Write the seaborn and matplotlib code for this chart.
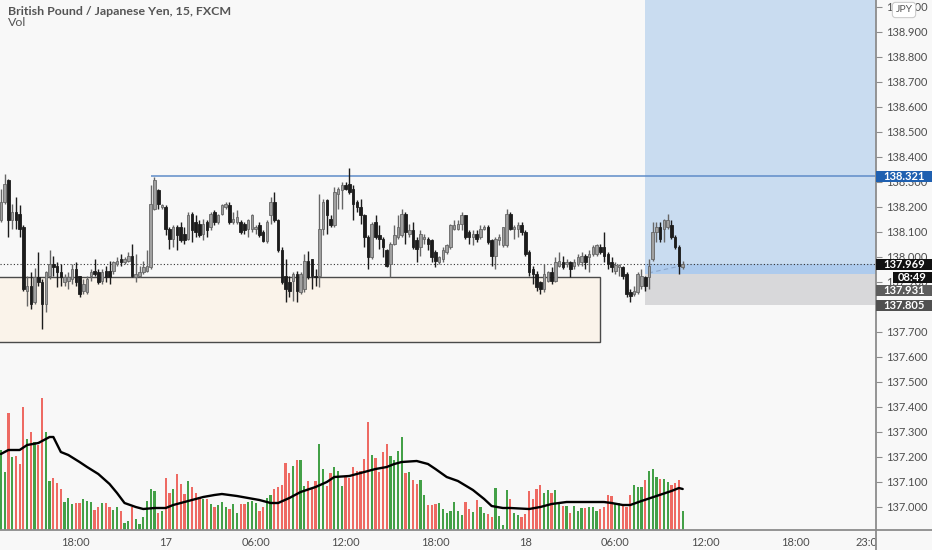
import numpy as np
import matplotlib
matplotlib.use('Agg')
import matplotlib.pyplot as plt
from matplotlib.patches import Rectangle
from matplotlib.lines import Line2D
import seaborn as sns

# --- data (15 min bars, first bar = 16th 13:00) ---
title = "British Pound / Japanese Yen, 15, FXCM"

opens = [
    138.145, 138.219, 138.306, 138.145, 138.178, 138.172, 138.118, 137.864, 137.884, 137.817,
    137.918, 137.897, 137.810, 137.924, 137.971, 137.964, 137.940, 137.897, 137.904, 137.911,
    137.951, 137.924, 137.864, 137.857, 137.924, 137.944, 137.940, 137.904, 137.944, 137.944,
    137.944, 137.971, 137.991, 137.978, 137.984, 138.004, 137.918, 137.924, 137.938, 137.944,
    137.958, 138.192, 138.266, 138.199, 138.199, 138.112, 138.071, 138.118, 138.118, 138.091,
    138.071, 138.172, 138.138, 138.132, 138.091, 138.138, 138.118, 138.178, 138.138, 138.172,
    138.199, 138.205, 138.138, 138.138, 138.138, 138.132, 138.112, 138.112, 138.112, 138.125,
    138.098, 138.061, 138.165, 138.219, 138.145, 138.025, 137.924, 137.897, 137.904, 137.931,
    137.857, 137.871, 137.984, 137.991, 137.924, 137.924, 138.112, 138.225, 138.152, 138.125,
    138.252, 138.266, 138.286, 138.292, 138.272, 138.219, 138.199, 138.165, 138.078, 137.998,
    138.138, 138.085, 138.071, 138.025, 137.971, 138.051, 138.078, 138.085, 138.172, 138.091,
    138.105, 138.065, 138.038, 138.071, 138.071, 138.065, 138.018, 137.978, 137.991, 138.018,
    138.038, 138.112, 138.112, 138.132, 138.165, 138.098, 138.078, 138.091, 138.078, 138.112,
    138.118, 138.065, 138.004, 138.065, 138.045, 138.045, 138.172, 138.112, 138.112, 138.125,
    138.098, 138.018, 137.951, 137.931, 137.897, 137.871, 137.904, 137.938, 137.904, 137.964,
    137.978, 137.971, 137.978, 137.964, 137.971, 137.978, 138.004, 137.998, 138.011, 138.011,
    138.038, 138.038, 138.011, 137.978, 137.944, 137.958, 137.958, 137.931, 137.857, 137.850,
    137.857, 137.884, 137.918, 137.918, 137.991, 138.098, 138.118, 138.112, 138.118, 138.125,
    138.078, 138.038, 137.960,
]
highs = [
    138.272, 138.329, 138.312, 138.212, 138.239, 138.208, 138.125, 137.924, 137.938, 137.954,
    138.018, 137.911, 137.944, 138.025, 138.004, 137.978, 137.971, 137.931, 137.938, 137.971,
    137.978, 137.924, 137.911, 137.924, 137.951, 137.991, 137.951, 137.951, 137.964, 137.984,
    137.984, 137.998, 138.011, 137.998, 138.018, 138.051, 138.011, 137.964, 137.984, 138.025,
    138.286, 138.319, 138.272, 138.212, 138.205, 138.118, 138.125, 138.125, 138.138, 138.118,
    138.178, 138.178, 138.165, 138.145, 138.152, 138.145, 138.178, 138.185, 138.172, 138.212,
    138.219, 138.219, 138.178, 138.185, 138.145, 138.138, 138.152, 138.172, 138.125, 138.138,
    138.105, 138.145, 138.239, 138.259, 138.152, 138.038, 137.991, 137.924, 137.938, 137.944,
    137.938, 138.011, 138.021, 137.991, 137.951, 138.252, 138.232, 138.232, 138.165, 138.279,
    138.279, 138.299, 138.299, 138.353, 138.286, 138.225, 138.232, 138.172, 138.085, 138.138,
    138.165, 138.125, 138.078, 138.031, 138.058, 138.125, 138.165, 138.192, 138.178, 138.132,
    138.138, 138.078, 138.105, 138.091, 138.078, 138.071, 138.025, 138.004, 138.038, 138.051,
    138.132, 138.145, 138.145, 138.178, 138.168, 138.105, 138.105, 138.105, 138.125, 138.128,
    138.125, 138.071, 138.078, 138.091, 138.118, 138.192, 138.178, 138.125, 138.138, 138.138,
    138.105, 138.025, 137.964, 137.944, 137.904, 137.971, 137.944, 137.958, 137.998, 138.018,
    138.004, 137.991, 137.984, 137.991, 138.011, 138.018, 138.011, 138.025, 138.045, 138.051,
    138.051, 138.098, 138.018, 137.998, 137.978, 137.971, 137.964, 137.938, 137.871, 137.884,
    137.938, 137.951, 137.924, 137.991, 138.138, 138.138, 138.138, 138.152, 138.172, 138.145,
    138.085, 138.045, 137.984,
]
lows = [
    138.138, 138.212, 138.078, 138.112, 138.112, 138.078, 137.864, 137.804, 137.790, 137.810,
    137.884, 137.710, 137.777, 137.911, 137.924, 137.877, 137.884, 137.884, 137.871, 137.890,
    137.884, 137.837, 137.850, 137.850, 137.904, 137.924, 137.890, 137.890, 137.897, 137.890,
    137.931, 137.964, 137.964, 137.971, 137.978, 137.918, 137.897, 137.918, 137.931, 137.938,
    137.951, 138.185, 138.192, 138.192, 138.085, 138.031, 138.038, 138.025, 138.058, 138.051,
    138.065, 138.058, 138.078, 138.078, 138.065, 138.078, 138.105, 138.125, 138.132, 138.165,
    138.192, 138.132, 138.132, 138.132, 138.091, 138.091, 138.078, 138.098, 138.091, 138.078,
    138.058, 138.055, 138.132, 138.138, 138.018, 137.891, 137.817, 137.837, 137.824, 137.817,
    137.850, 137.857, 137.911, 137.871, 137.884, 137.877, 138.085, 138.091, 138.118, 138.118,
    138.192, 138.192, 138.266, 138.252, 138.145, 138.178, 138.132, 138.038, 137.951, 137.991,
    138.071, 138.031, 137.998, 137.960, 137.918, 138.045, 138.071, 138.078, 138.051, 138.078,
    138.031, 137.978, 138.004, 138.051, 138.025, 137.978, 137.958, 137.971, 137.978, 138.011,
    138.031, 138.105, 138.105, 138.105, 138.071, 138.051, 138.045, 138.058, 138.071, 138.105,
    138.051, 137.964, 137.951, 138.045, 138.038, 138.038, 138.105, 138.071, 138.078, 138.085,
    138.004, 137.924, 137.891, 137.864, 137.850, 137.857, 137.897, 137.891, 137.897, 137.958,
    137.951, 137.958, 137.918, 137.951, 137.964, 137.964, 137.951, 137.938, 138.004, 138.004,
    138.011, 137.978, 137.951, 137.938, 137.931, 137.924, 137.911, 137.837, 137.817, 137.844,
    137.850, 137.871, 137.864, 137.871, 137.984, 138.058, 138.058, 138.058, 138.112, 138.071,
    138.031, 137.931, 137.951,
]
closes = [
    138.219, 138.292, 138.145, 138.178, 138.145, 138.112, 137.871, 137.884, 137.810, 137.918,
    137.897, 137.810, 137.938, 137.971, 137.958, 137.938, 137.918, 137.918, 137.918, 137.951,
    137.897, 137.850, 137.891, 137.911, 137.940, 137.931, 137.897, 137.938, 137.918, 137.918,
    137.978, 137.984, 137.978, 137.991, 138.004, 137.924, 137.931, 137.940, 137.958, 137.964,
    138.212, 138.306, 138.212, 138.205, 138.112, 138.071, 138.118, 138.085, 138.065, 138.065,
    138.165, 138.105, 138.098, 138.085, 138.132, 138.105, 138.172, 138.138, 138.165, 138.205,
    138.212, 138.138, 138.152, 138.158, 138.098, 138.105, 138.145, 138.165, 138.118, 138.085,
    138.061, 138.138, 138.219, 138.145, 138.025, 137.897, 137.871, 137.864, 137.931, 137.864,
    137.931, 137.984, 137.918, 137.924, 137.920, 138.112, 138.219, 138.165, 138.125, 138.259,
    138.272, 138.286, 138.272, 138.259, 138.212, 138.199, 138.165, 138.078, 137.998, 138.132,
    138.078, 138.071, 138.038, 137.964, 138.051, 138.085, 138.118, 138.172, 138.098, 138.105,
    138.038, 138.031, 138.091, 138.078, 138.051, 137.998, 137.984, 137.998, 138.025, 138.045,
    138.125, 138.125, 138.132, 138.165, 138.078, 138.078, 138.091, 138.071, 138.112, 138.118,
    138.058, 138.004, 138.071, 138.078, 138.118, 138.172, 138.112, 138.118, 138.125, 138.098,
    138.011, 137.938, 137.931, 137.877, 137.871, 137.931, 137.938, 137.904, 137.978, 137.984,
    137.958, 137.978, 137.951, 137.978, 137.998, 138.004, 137.978, 138.011, 138.038, 138.045,
    138.018, 138.004, 137.971, 137.958, 137.967, 137.967, 137.924, 137.850, 137.844, 137.864,
    137.931, 137.924, 137.884, 137.964, 138.098, 138.118, 138.071, 138.145, 138.145, 138.078,
    138.038, 137.964, 137.969,
]
volumes = [
    80, 58, 117, 73, 74, 66, 123, 91, 98, 88,
    85, 132, 98, 49, 52, 47, 41, 28, 32, 26,
    27, 27, 31, 29, 28, 20, 23, 27, 27, 23,
    20, 23, 19, 7, 9, 23, 11, 6, 13, 29,
    41, 39, 17, 19, 52, 37, 41, 56, 46, 36,
    49, 43, 37, 33, 31, 31, 26, 23, 25, 28,
    23, 21, 26, 17, 26, 26, 28, 29, 27, 19,
    23, 32, 35, 41, 43, 45, 67, 57, 64, 70,
    70, 44, 49, 41, 49, 86, 61, 44, 57, 63,
    59, 44, 53, 52, 63, 59, 59, 71, 108, 75,
    72, 58, 78, 86, 74, 70, 79, 93, 57, 58,
    50, 46, 50, 35, 25, 25, 26, 27, 21, 17,
    19, 28, 19, 15, 28, 21, 18, 30, 23, 17,
    16, 13, 42, 14, 5, 40, 31, 17, 15, 13,
    16, 39, 31, 41, 45, 37, 40, 37, 40, 27,
    24, 24, 17, 24, 19, 22, 22, 23, 23, 19,
    21, 23, 35, 34, 27, 27, 25, 23, 35, 45,
    43, 43, 50, 59, 61, 53, 51, 51, 48, 45,
    47, 50, 19,
]
# volume moving average, read at a subset of bars
vol_ma_bars = [0, 2, 5, 7, 10, 12, 13, 14, 16, 18, 21, 23, 26, 29, 31, 33, 36, 38, 41, 44,
               46, 50, 54, 57, 59, 63, 66, 69, 72, 74, 77, 80, 84, 87, 89, 93, 97, 100, 103, 105,
               107, 111, 114, 116, 119, 122, 126, 129, 131, 134, 136, 141, 144, 147, 151, 154,
               158, 161, 163, 166, 168, 171, 175, 179, 181, 182]
vol_ma_vals = [76, 80, 80, 85, 87, 91, 93, 93, 78, 75, 68, 63, 56, 46, 37, 27, 23, 21, 22, 22,
               25, 29, 33, 35, 36, 34, 32, 30, 27, 27, 32, 38, 43, 48, 53, 54, 58, 61, 63, 66,
               68, 69, 66, 61, 53, 49, 40, 31, 24, 22, 22, 21, 23, 26, 28, 28,
               28, 28, 27, 25, 25, 29, 34, 39, 42, 41]

time_tick_hours = [5, 11, 17, 23, 29, 35, 41, 47, 53, 58]   # hours after first bar
time_tick_labels = ["18:00", "17", "06:00", "12:00", "18:00", "18", "06:00", "12:00", "18:00", "23:00"]
price_ticks = [137.0, 137.1, 137.2, 137.3, 137.4, 137.5, 137.6, 137.7, 137.8, 137.9,
               138.0, 138.1, 138.2, 138.3, 138.4, 138.5, 138.6, 138.7, 138.8, 138.9, 139.0]

resistance = 138.321
last_price = 137.969
entry_price = 137.931
stop_price = 137.805
zone_top, zone_bottom = 137.920, 137.659
resistance_start_bar = 40
zone_end_bar = 159.9
position_start_bar = 171.9
countdown = "08:49"

# --- style ---
BG = '#f8f8f8'
AXIS = '#8c8c8c'
TXT = '#4d4d4d'
UP_FACE, UP_EDGE, DOWN = '#a0a0a0', '#666666', '#1c1c1c'
VOL_UP, VOL_DOWN = '#43a047', '#ee6a63'

sns.set_style('white', {'axes.facecolor': BG, 'figure.facecolor': BG})
plt.rcParams['font.family'] = ['Lato', 'DejaVu Sans']

W, H = 932, 550
fig = plt.figure(figsize=(W / 100, H / 100), dpi=100, facecolor=BG)
ax = fig.add_axes([0, 20 / H, 876 / W, 530 / H])
vax = ax.twinx()
ax.set_zorder(vax.get_zorder() + 1)
ax.patch.set_visible(False)
vax.patch.set_facecolor(BG)

o, h, l, c = map(np.array, (opens, highs, lows, closes))
x = np.arange(len(o))
up = c >= o

# volume pane (overlay at the bottom)
vax.bar(x, volumes, width=0.6, color=np.where(up, VOL_UP, VOL_DOWN), linewidth=0, zorder=2)
sns.lineplot(x=vol_ma_bars, y=vol_ma_vals, ax=vax, color='black', lw=1.7, zorder=3)
vax.set_ylim(0, 530)
vax.set_yticks([])
vax.set_ylabel('')

# zones and levels
ax.add_patch(Rectangle((-10, zone_bottom), zone_end_bar + 10, zone_top - zone_bottom,
                       fc='#faf3ea', ec='#4a4a4a', lw=1.0, zorder=1))
ax.hlines(resistance, resistance_start_bar, 300, color='#5f8cc8', lw=1.1, zorder=2)
ax.add_patch(Rectangle((position_start_bar, entry_price), 300, 2, fc='#c9dcf0', ec='none', zorder=1))
ax.add_patch(Rectangle((position_start_bar, stop_price), 300, entry_price - stop_price,
                       fc='#d8d8da', ec='none', zorder=1))
ax.add_patch(Rectangle((position_start_bar, entry_price), 300, last_price - entry_price,
                       fc='#aecbed', ec='none', zorder=1.2))
ax.plot([position_start_bar + 1, x[-1]], [entry_price + 0.004, last_price - 0.004],
        ls=(0, (4, 3)), color='#8ea8cb', lw=0.8, zorder=2)
ax.axhline(last_price, color='#333333', lw=0.8, ls=(0, (1, 2)), zorder=2.5)

# candles
body_bot = np.minimum(o, c)
body_h = np.maximum(np.abs(c - o), 0.003)
ax.vlines(x[up], l[up], h[up], color=UP_EDGE, lw=1.0, zorder=3)
ax.vlines(x[~up], l[~up], h[~up], color=DOWN, lw=1.0, zorder=3)
ax.bar(x[up], body_h[up], bottom=body_bot[up], width=0.68, color=UP_FACE,
       edgecolor=UP_EDGE, linewidth=0.6, zorder=4)
ax.bar(x[~up], body_h[~up], bottom=body_bot[~up], width=0.68, color=DOWN,
       edgecolor=DOWN, linewidth=0.6, zorder=4)

ax.set_xlim(-0.24, 233.6)
ax.set_ylim(136.907, 139.0268)
ax.set_yticks(price_ticks)
ax.set_yticklabels([f'{p:.3f}' for p in price_ticks])
ax.yaxis.tick_right()
ax.tick_params(axis='y', right=True, left=False, labelright=True, labelleft=False,
               length=4, width=0.8, color=AXIS, pad=3, labelsize=8, labelcolor=TXT)
ax.set_xticks([hh * 4 for hh in time_tick_hours])
ax.set_xticklabels(time_tick_labels)
ax.tick_params(axis='x', length=0, pad=5, labelsize=8, labelcolor=TXT)
for a in (ax, vax):
    a.grid(False)
    for s in a.spines.values():
        s.set_visible(False)
    a.set_xlabel('')

# hide the time label part that runs under the price scale, then draw axis lines
fig.add_artist(Rectangle((876 / W, 0), 56 / W, 19 / H, transform=fig.transFigure,
                         fc=BG, ec='none', zorder=5))
fig.add_artist(Line2D([876 / W, 876 / W], [0, 1], color=AXIS, lw=1.3, zorder=6))
fig.add_artist(Line2D([0, 1], [20 / H, 20 / H], color=AXIS, lw=1.3, zorder=6))


def price_y(p):
    return ax.transData.transform((0, p))[1]


def tag(y_disp, text, fc, x0=876, tx=883, ha='left'):
    hgt = 11
    fig.add_artist(Rectangle((x0 / W, (y_disp - hgt / 2) / H), (W - x0) / W, hgt / H,
                             transform=fig.transFigure, fc=fc, ec='none', zorder=7))
    fig.text(tx / W, y_disp / H, text, color='white', fontsize=8, fontweight='bold',
             ha=ha, va='center', zorder=8)


tag(price_y(resistance), f'{resistance:.3f}', '#1f60b0')
tag(price_y(last_price), f'{last_price:.3f}', '#111111')
tag(price_y(last_price) - 13, countdown, '#111111', x0=893, tx=912, ha='center')
tag(price_y(entry_price) - 17, f'{entry_price:.3f}', '#5c5c5c')
tag(price_y(stop_price), f'{stop_price:.3f}', '#505050')

fig.text(904 / W, 1 - 10 / H, 'JPY', ha='center', va='center', fontsize=7.5, color='#555555',
         bbox=dict(boxstyle='round,pad=0.3', fc='white', ec='#cccccc', lw=0.8), zorder=8)

fig.text(8 / W, 1 - 11.5 / H, title, fontsize=8.9, fontweight='bold', color='#555555', va='center')
fig.text(8 / W, 1 - 23 / H, 'Vol', fontsize=8.9, color='#555555', va='center')

fig.savefig('out.png', dpi=100, facecolor=BG)
